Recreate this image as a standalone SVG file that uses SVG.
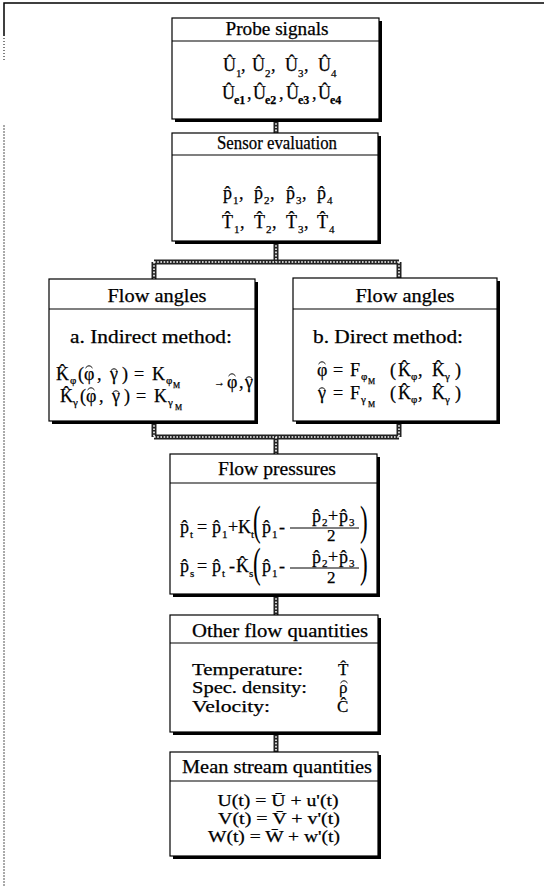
<svg xmlns="http://www.w3.org/2000/svg" width="544" height="887" viewBox="0 0 544 887">
<style>
.bx{fill:#fff;stroke:#000;stroke-width:1.2}
.sh{fill:#000}
.dv{stroke:#000;stroke-width:1.2}
text{font-family:"Liberation Serif","DejaVu Serif",serif;fill:#000;stroke:#000;stroke-width:0.25}
.hd{font-size:18px;text-anchor:middle}
.m{font-size:18px}
.r{font-size:17px}
.c{font-size:17px;text-anchor:middle}
.s{font-size:11px}
.sb{font-size:12px;font-weight:bold}
.ss{font-size:8px}
.pr{font-size:42px;stroke-width:0}
.ht{fill:none;stroke:#000;stroke-width:1}
.ropeA{fill:none;stroke:#222;stroke-width:5}
.ropeB{fill:none;stroke:#fff;stroke-width:1.6;stroke-dasharray:1.6 1.6}
.fr{fill:none;stroke:#000;stroke-width:1.5}
</style>
<defs>
<path id="hat" class="ht" d="M-3.5,2 Q0,-2.5 3.5,2"/>
</defs>
<rect width="544" height="887" fill="#fff"/>
<g id="frame">
<path class="fr" d="M4,36 V3 H544"/>
<path d="M4,38 V62" stroke="#000" stroke-width="1" stroke-dasharray="1 2"/>
<path d="M4,125 V887" stroke="#555" stroke-width="1" stroke-dasharray="2 1"/>
</g>
<g id="connectors">
<path class="ropeA" d="M276,120 V133 M276,242 V262 M154,262 H399 M154,262 V279 M399,262 V278 M154,422 V437 M399,422 V437 M154,437 H399 M276,437 V454 M276,595 V615 M276,733 V752"/>
<path class="ropeB" d="M276,120 V133 M276,242 V262 M154,262 H399 M154,262 V279 M399,262 V278 M154,422 V437 M399,422 V437 M154,437 H399 M276,437 V454 M276,595 V615 M276,733 V752"/>
</g>
<g id="probe">
<rect class="sh" x="175" y="21" width="207" height="101"/>
<rect class="bx" x="172" y="18" width="207" height="101"/>
<line class="dv" x1="172" y1="41" x2="379" y2="41"/>
<text class="hd" x="277" y="35" textLength="103" lengthAdjust="spacingAndGlyphs">Probe signals</text>
<text class="m"><tspan x="223" y="71">Û</tspan><tspan class="s" x="236" y="77">1</tspan><tspan x="241" y="71">,</tspan><tspan x="252" y="71">Û</tspan><tspan class="s" x="265" y="77">2</tspan><tspan x="271" y="71">,</tspan><tspan x="285" y="71">Û</tspan><tspan class="s" x="298" y="77">3</tspan><tspan x="304" y="71">,</tspan><tspan x="318" y="71">Û</tspan><tspan class="s" x="331" y="77">4</tspan></text>
<text class="m"><tspan x="222" y="99">Û</tspan><tspan class="sb" x="234" y="104">e1</tspan><tspan x="247" y="99">,</tspan><tspan x="253" y="99">Û</tspan><tspan class="sb" x="265" y="104">e2</tspan><tspan x="279" y="99">,</tspan><tspan x="286" y="99">Û</tspan><tspan class="sb" x="298" y="104">e3</tspan><tspan x="312" y="99">,</tspan><tspan x="318" y="99">Û</tspan><tspan class="sb" x="330" y="104">e4</tspan></text>
</g>
<g id="sensor">
<rect class="sh" x="175" y="136" width="206" height="108"/>
<rect class="bx" x="172" y="133" width="206" height="108"/>
<line class="dv" x1="172" y1="155" x2="378" y2="155"/>
<text class="hd" x="277" y="149" textLength="120" lengthAdjust="spacingAndGlyphs">Sensor evaluation</text>
<text class="m"><tspan x="223" y="199">p̂</tspan><tspan class="s" x="233" y="204">1</tspan><tspan x="239" y="199">,</tspan><tspan x="254" y="199">p̂</tspan><tspan class="s" x="264" y="204">2</tspan><tspan x="270" y="199">,</tspan><tspan x="286" y="199">p̂</tspan><tspan class="s" x="296" y="204">3</tspan><tspan x="302" y="199">,</tspan><tspan x="317" y="199">p̂</tspan><tspan class="s" x="327" y="204">4</tspan></text>
<text class="m"><tspan x="222" y="228">T̂</tspan><tspan class="s" x="234" y="233">1</tspan><tspan x="240" y="228">,</tspan><tspan x="254" y="228">T̂</tspan><tspan class="s" x="266" y="233">2</tspan><tspan x="272" y="228">,</tspan><tspan x="286" y="228">T̂</tspan><tspan class="s" x="298" y="233">3</tspan><tspan x="304" y="228">,</tspan><tspan x="317" y="228">T̂</tspan><tspan class="s" x="329" y="233">4</tspan></text>
</g>
<g id="angles-indirect">
<rect class="sh" x="52" y="282" width="206" height="142"/>
<rect class="bx" x="49" y="279" width="206" height="142"/>
<line class="dv" x1="49" y1="309" x2="255" y2="309"/>
<text class="hd" x="157" y="302" textLength="99" lengthAdjust="spacingAndGlyphs">Flow angles</text>
<text class="hd" x="151" y="343" textLength="162" lengthAdjust="spacingAndGlyphs">a. Indirect method:</text>
<text class="m"><tspan x="56" y="380">K̂</tspan><tspan class="s" x="70" y="384">φ</tspan><tspan x="78" y="380">(</tspan><tspan x="84" y="380">φ</tspan><tspan x="97" y="380">,</tspan><tspan x="110" y="380">γ</tspan><tspan x="122" y="380">)</tspan><tspan x="134" y="380">=</tspan><tspan x="152" y="380">K</tspan><tspan class="s" x="166" y="384">φ</tspan><tspan class="ss" x="173" y="388">M</tspan></text>
<text class="m"><tspan x="60" y="402">K̂</tspan><tspan class="s" x="73" y="406">γ</tspan><tspan x="80" y="402">(</tspan><tspan x="86" y="402">φ</tspan><tspan x="99" y="402">,</tspan><tspan x="112" y="402">γ</tspan><tspan x="124" y="402">)</tspan><tspan x="136" y="402">=</tspan><tspan x="154" y="402">K</tspan><tspan class="s" x="168" y="406">γ</tspan><tspan class="ss" x="175" y="410">M</tspan></text>
<text class="m"><tspan class="s" x="214" y="386">→</tspan><tspan x="227" y="388">φ</tspan><tspan x="239" y="388">,</tspan><tspan x="245" y="388">γ</tspan></text>
<use href="#hat" x="89" y="366"/><use href="#hat" x="114" y="369"/>
<use href="#hat" x="91" y="388"/><use href="#hat" x="116" y="391"/>
<use href="#hat" x="232" y="374"/><use href="#hat" x="249" y="377"/>
</g>
<g id="angles-direct">
<rect class="sh" x="296" y="281" width="204" height="143"/>
<rect class="bx" x="293" y="278" width="204" height="143"/>
<line class="dv" x1="293" y1="309" x2="497" y2="309"/>
<text class="hd" x="405" y="302" textLength="99" lengthAdjust="spacingAndGlyphs">Flow angles</text>
<text class="hd" x="388" y="343" textLength="150" lengthAdjust="spacingAndGlyphs">b. Direct method:</text>
<text class="m"><tspan x="317" y="376">φ</tspan><tspan x="333" y="376">=</tspan><tspan x="350" y="376">F</tspan><tspan class="s" x="361" y="380">φ</tspan><tspan class="ss" x="368" y="384">M</tspan><tspan x="390" y="376">(</tspan><tspan x="398" y="376">K̂</tspan><tspan class="s" x="411" y="380">φ</tspan><tspan x="418" y="376">,</tspan><tspan x="432" y="376">K̂</tspan><tspan class="s" x="445" y="380">γ</tspan><tspan x="455" y="376">)</tspan></text>
<text class="m"><tspan x="318" y="399">γ</tspan><tspan x="333" y="399">=</tspan><tspan x="350" y="399">F</tspan><tspan class="s" x="361" y="403">γ</tspan><tspan class="ss" x="368" y="407">M</tspan><tspan x="390" y="399">(</tspan><tspan x="398" y="399">K̂</tspan><tspan class="s" x="411" y="403">φ</tspan><tspan x="418" y="399">,</tspan><tspan x="432" y="399">K̂</tspan><tspan class="s" x="445" y="403">γ</tspan><tspan x="455" y="399">)</tspan></text>
<use href="#hat" x="322" y="362"/><use href="#hat" x="322" y="388"/>
</g>
<g id="pressures">
<rect class="sh" x="173" y="457" width="207" height="140"/>
<rect class="bx" x="170" y="454" width="207" height="140"/>
<line class="dv" x1="170" y1="483" x2="377" y2="483"/>
<text class="hd" x="277" y="475" textLength="118" lengthAdjust="spacingAndGlyphs">Flow pressures</text>
<text class="m"><tspan x="180" y="533">p̂</tspan><tspan class="s" x="190" y="538">t</tspan><tspan x="197" y="533">=</tspan><tspan x="212" y="533">p̂</tspan><tspan class="s" x="222" y="538">1</tspan><tspan x="228" y="533">+</tspan><tspan x="238" y="533">K</tspan><tspan class="s" x="251" y="538">t</tspan><tspan x="262" y="533">p̂</tspan><tspan class="s" x="272" y="538">1</tspan><tspan x="279" y="533">-</tspan><tspan x="312" y="522">p̂</tspan><tspan class="s" x="322" y="526">2</tspan><tspan x="328" y="522">+</tspan><tspan x="339" y="522">p̂</tspan><tspan class="s" x="349" y="526">3</tspan></text>
<text class="r" x="327" y="541">2</text>
<line x1="290" y1="528" x2="359" y2="528" stroke="#000" stroke-width="1"/>
<text class="m"><tspan x="180" y="572">p̂</tspan><tspan class="s" x="190" y="577">s</tspan><tspan x="197" y="572">=</tspan><tspan x="212" y="572">p̂</tspan><tspan class="s" x="222" y="577">t</tspan><tspan x="229" y="572">-</tspan><tspan x="236" y="572">K̂</tspan><tspan class="s" x="249" y="577">s</tspan><tspan x="262" y="572">p̂</tspan><tspan class="s" x="272" y="577">1</tspan><tspan x="279" y="572">-</tspan><tspan x="312" y="563">p̂</tspan><tspan class="s" x="322" y="567">2</tspan><tspan x="328" y="563">+</tspan><tspan x="339" y="563">p̂</tspan><tspan class="s" x="349" y="567">3</tspan></text>
<text class="r" x="327" y="583">2</text>
<line x1="290" y1="568" x2="359" y2="568" stroke="#000" stroke-width="1"/>
<text class="pr" transform="translate(253,535) scale(0.55,1)">(</text>
<text class="pr" transform="translate(360,535) scale(0.55,1)">)</text>
<text class="pr" transform="translate(253,577) scale(0.55,1)">(</text>
<text class="pr" transform="translate(360,577) scale(0.55,1)">)</text>
</g>
<g id="other">
<rect class="sh" x="173" y="618" width="208" height="117"/>
<rect class="bx" x="170" y="615" width="208" height="117"/>
<line class="dv" x1="170" y1="643" x2="378" y2="643"/>
<text class="hd" x="280" y="637" textLength="176" lengthAdjust="spacingAndGlyphs">Other flow quantities</text>
<text class="r" x="192" y="675" textLength="111" lengthAdjust="spacingAndGlyphs">Temperature:</text>
<text class="r" x="192" y="693" textLength="115" lengthAdjust="spacingAndGlyphs">Spec. density:</text>
<text class="r" x="192" y="712" textLength="78" lengthAdjust="spacingAndGlyphs">Velocity:</text>
<text class="r" x="338" y="675">T̂</text>
<text class="r" x="339" y="693">ρ</text>
<use href="#hat" x="344" y="681"/>
<text class="r" x="337" y="712">Ĉ</text>
</g>
<g id="mean">
<rect class="sh" x="173" y="755" width="208" height="104"/>
<rect class="bx" x="170" y="752" width="208" height="104"/>
<line class="dv" x1="170" y1="781" x2="378" y2="781"/>
<text class="hd" x="277" y="773" textLength="190" lengthAdjust="spacingAndGlyphs">Mean stream quantities</text>
<text class="c" x="278" y="806" textLength="121" lengthAdjust="spacingAndGlyphs">U(t) = Ū + u'(t)</text>
<text class="c" x="279" y="824" textLength="122" lengthAdjust="spacingAndGlyphs">V(t) = V̄ + v'(t)</text>
<text class="c" x="274" y="842" textLength="132" lengthAdjust="spacingAndGlyphs">W(t) = W̄ + w'(t)</text>
</g>
</svg>
